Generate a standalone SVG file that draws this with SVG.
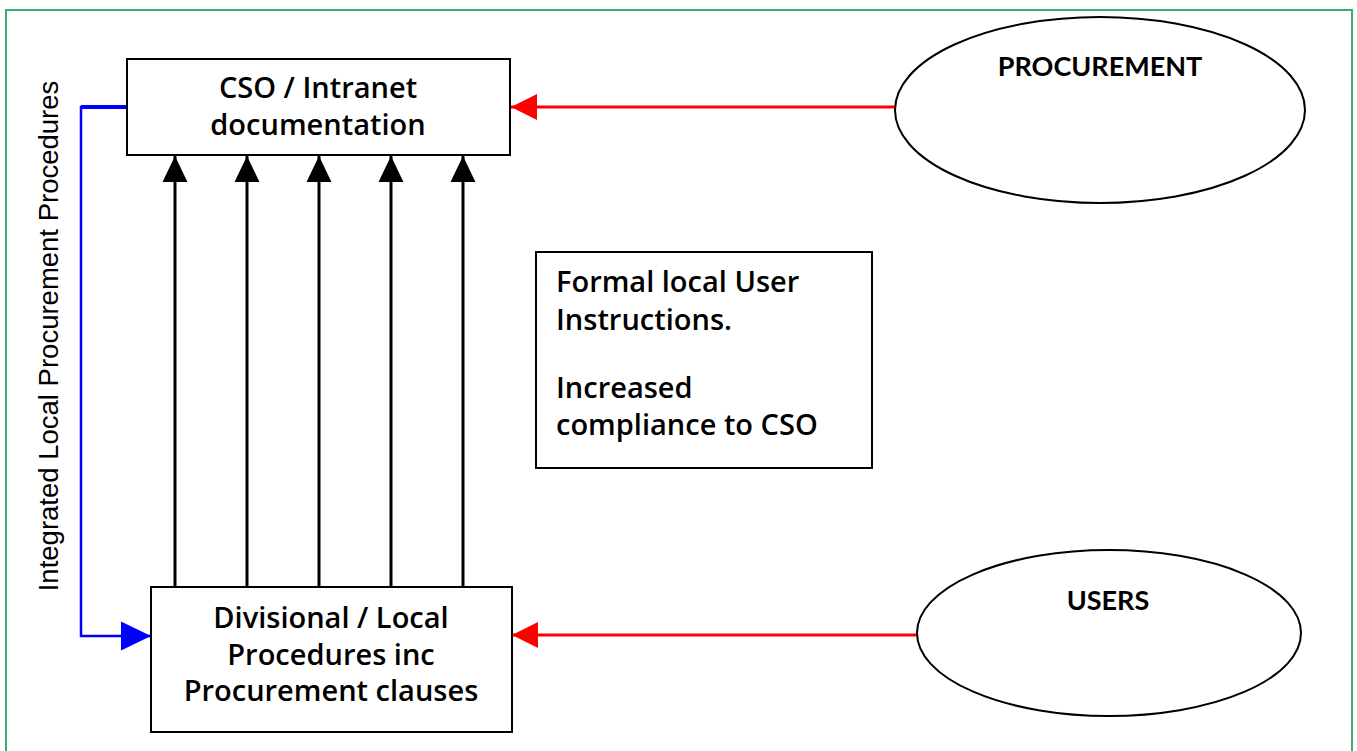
<svg xmlns="http://www.w3.org/2000/svg" width="1357" height="751" viewBox="0 0 1357 751">
<defs>
<style>
.box{fill:#fff;stroke:#000;stroke-width:2}
.ell{fill:#fff;stroke:#000;stroke-width:2}
.lbl{font-family:"Open Sans","Liberation Sans",sans-serif;font-weight:600;font-size:29px;fill:#000}
.ell-lbl{font-family:Lato,"Liberation Sans",sans-serif;font-weight:700;font-size:27px;fill:#000}
.side{font-family:"Liberation Sans",Arial,sans-serif;font-size:27.5px;fill:#000}
.blk{stroke:#000;stroke-width:3;fill:none}
.red{stroke:#ff0000;stroke-width:3;fill:none}
.blu{stroke:#0000ff;stroke-width:2.5;fill:none}
</style>
<marker id="ahBlack" markerUnits="userSpaceOnUse" markerWidth="26" markerHeight="26" viewBox="0 0 25 24" refX="25" refY="12" orient="auto">
<path d="M0,0 L25,12 L0,24 Z" fill="#000"/>
</marker>
<marker id="ahRed" markerUnits="userSpaceOnUse" markerWidth="26" markerHeight="26" viewBox="0 0 24 24" refX="24" refY="12" orient="auto">
<path d="M0,0 L24,12 L0,24 Z" fill="#ff0000"/>
</marker>
<marker id="ahBlue" markerUnits="userSpaceOnUse" markerWidth="30" markerHeight="30" viewBox="0 0 29 28" refX="29" refY="14" orient="auto">
<path d="M0,0 L29,14 L0,28 Z" fill="#0000ff"/>
</marker>
</defs>
<rect x="0" y="0" width="1357" height="751" fill="#fff"/>
<rect id="frame" x="6" y="10" width="1346" height="760" fill="none" stroke="#3daa6e" stroke-width="2"/>

<g id="connectors">
<line class="blk" x1="175" y1="587" x2="175" y2="156" marker-end="url(#ahBlack)"/>
<line class="blk" x1="247" y1="587" x2="247" y2="156" marker-end="url(#ahBlack)"/>
<line class="blk" x1="319" y1="587" x2="319" y2="156" marker-end="url(#ahBlack)"/>
<line class="blk" x1="391" y1="587" x2="391" y2="156" marker-end="url(#ahBlack)"/>
<line class="blk" x1="463" y1="587" x2="463" y2="156" marker-end="url(#ahBlack)"/>
<line class="red" x1="895" y1="107" x2="511" y2="107" marker-end="url(#ahRed)"/>
<line class="red" x1="917" y1="635" x2="512" y2="635" marker-end="url(#ahRed)"/>
<path class="blu" d="M127,107 H81 V636 H151" marker-end="url(#ahBlue)"/>
<line x1="81" y1="107" x2="127" y2="107" stroke="#0000ff" stroke-width="4"/>
</g>

<g id="cso">
<rect class="box" x="127" y="59" width="383" height="96"/>
<text class="lbl" text-anchor="middle" x="318" y="98">CSO / Intranet</text>
<text class="lbl" text-anchor="middle" x="318" y="135">documentation</text>
</g>

<g id="divisional">
<rect class="box" x="151" y="587" width="361" height="145"/>
<text class="lbl" text-anchor="middle" x="331" y="628">Divisional / Local</text>
<text class="lbl" text-anchor="middle" x="331" y="665">Procedures inc</text>
<text class="lbl" text-anchor="middle" x="331" y="701">Procurement clauses</text>
</g>

<g id="formal">
<rect class="box" x="536" y="252" width="336" height="216"/>
<text class="lbl" x="556" y="292">Formal local User</text>
<text class="lbl" x="556" y="330">Instructions.</text>
<text class="lbl" x="556" y="398">Increased</text>
<text class="lbl" x="556" y="435">compliance to CSO</text>
</g>

<g id="procurement">
<ellipse class="ell" cx="1100" cy="110" rx="205" ry="93"/>
<text class="ell-lbl" text-anchor="middle" x="1100" y="76">PROCUREMENT</text>
</g>

<g id="users">
<ellipse class="ell" cx="1109" cy="633" rx="192" ry="83"/>
<text class="ell-lbl" text-anchor="middle" x="1108" y="610">USERS</text>
</g>

<g id="side-label">
<text class="side" text-anchor="middle" transform="translate(58,336) rotate(-90)">Integrated Local Procurement Procedures</text>
</g>
</svg>
